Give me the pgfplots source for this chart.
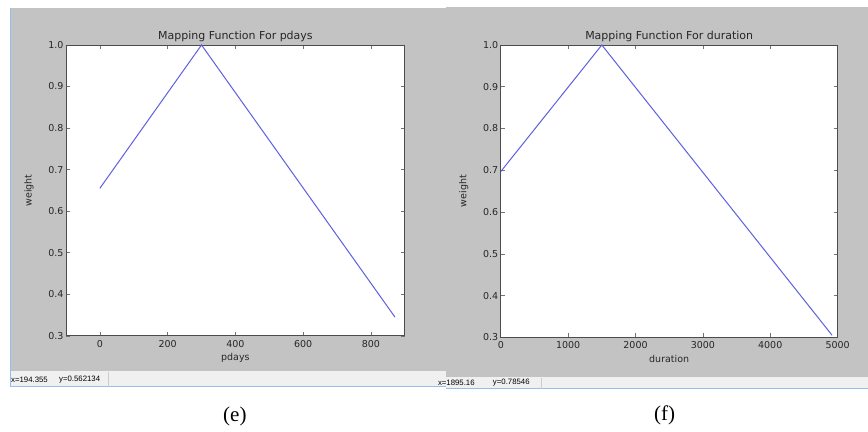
\documentclass[border=0pt]{standalone}
\usepackage{pgfplots}
\pgfplotsset{compat=1.18}
\usepackage{fontspec}
\setmainfont{DejaVu Sans}
\newfontfamily\capfont{Liberation Serif}
\newfontfamily\statfont{Liberation Sans}
\definecolor{winbg}{RGB}{195,195,195}
\definecolor{statbg}{RGB}{240,240,240}
\definecolor{linecol}{RGB}{95,95,225}
\definecolor{winborder}{RGB}{150,190,235}
\pgfplotsset{
  mpl/.style={
    scale only axis,
    anchor=south west,
    axis background/.style={fill=white},
    axis line style={draw=black!70, line width=0.9pt},
    tick align=inside,
    xtick pos=both, ytick pos=both,
    major tick length=4pt,
    every tick/.style={draw=black!55, line width=0.6pt},
    ymin=0.3, ymax=1.0,
    ytick={0.3,0.4,0.5,0.6,0.7,0.8,0.9,1.0},
    yticklabel style={/pgf/number format/fixed,/pgf/number format/fixed zerofill,/pgf/number format/precision=1},
    /pgf/number format/assume math mode=true,
    tick label style={font=\fontsize{9.5}{11}\selectfont, text=black!85},
    label style={font=\fontsize{9.5}{11}\selectfont, text=black!85},
    title style={font=\fontsize{11}{13}\selectfont, text=black!85, yshift=-6pt},
    xticklabel style={yshift=-1pt},
    yticklabel style={xshift=1pt},
    xlabel style={yshift=1pt},
    ylabel style={yshift=8pt},
    ylabel={weight},
    scaled x ticks=false,
    xticklabel style={/pgf/number format/1000 sep={}},
  }
}
\begin{document}
\begin{tikzpicture}
\path[fill=white] (0pt,0pt) rectangle (868pt,432pt);
% left window
\fill[winbg] (10pt,424pt) rectangle (446pt,60.5pt);
\fill[statbg] (10pt,60.5pt) rectangle (446pt,45pt);
\draw[winborder, line width=0.8pt] (10pt,45pt) -- (446pt,45pt);
\draw[winborder, line width=0.8pt] (10pt,424pt) -- (10pt,45pt);
\draw[black!20, line width=0.5pt] (108pt,60pt) -- (108pt,45pt);
\node[anchor=west, inner sep=0pt, font=\statfont\fontsize{7.8}{9}\selectfont] at (11pt,52.5pt) {x=194.355};
\node[anchor=west, inner sep=0pt, font=\statfont\fontsize{7.8}{9}\selectfont] at (59pt,52.5pt) {y=0.562134};
% right window
\fill[winbg] (446pt,425pt) rectangle (868pt,54.5pt);
\fill[statbg] (446pt,54.5pt) rectangle (868pt,43pt);
\draw[winborder, line width=0.8pt] (446pt,43pt) -- (868pt,43pt);
\draw[black!20, line width=0.5pt] (541pt,54pt) -- (541pt,43pt);
\node[anchor=west, inner sep=0pt, font=\statfont\fontsize{7.8}{9}\selectfont] at (438pt,49pt) {x=1895.16};
\node[anchor=west, inner sep=0pt, font=\statfont\fontsize{7.8}{9}\selectfont] at (493pt,49pt) {y=0.78546};
% captions
\node[font=\capfont\fontsize{21}{24}\selectfont] at (235pt,15pt) {(e)};
\node[font=\capfont\fontsize{21}{24}\selectfont] at (665pt,16pt) {(f)};

\begin{axis}[mpl, at={(66pt,96pt)}, width=339pt, height=291pt,
  xmin=-100, xmax=900, xtick={0,200,400,600,800},
  title={Mapping Function For pdays}, xlabel={pdays}]
\addplot[linecol, line width=1pt] coordinates {(0,0.655) (300,1.0) (871,0.345)};
\end{axis}

\begin{axis}[mpl, at={(501pt,94.5pt)}, width=337pt, height=292.5pt,
  xmin=0, xmax=5000, xtick={0,1000,2000,3000,4000,5000},
  title={Mapping Function For duration}, xlabel={duration}]
\addplot[linecol, line width=1pt] coordinates {(0,0.697) (1500,1.0) (4918,0.305)};
\end{axis}
\end{tikzpicture}
\end{document}
